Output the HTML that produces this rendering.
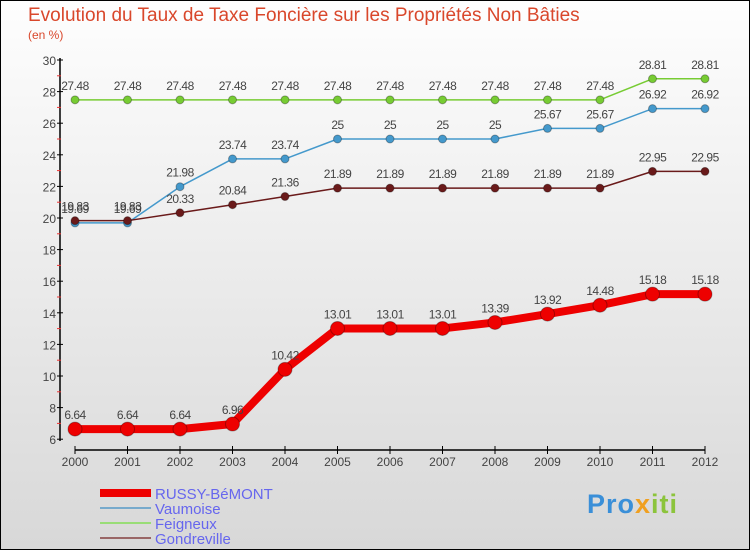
<!DOCTYPE html>
<html><head><meta charset="utf-8"><style>
body{margin:0;width:750px;height:550px;overflow:hidden;font-family:"Liberation Sans",sans-serif}
#wrap{position:relative;width:748px;height:548px;border:1px solid #000;background:linear-gradient(#fefefe,#d8d8d8)}
.t{position:absolute;color:#d9472b}
</style></head><body>
<div id="wrap">
<div class="t" style="left:27px;top:4px;font-size:19px">Evolution du Taux de Taxe Foncière sur les Propriétés Non Bâties</div>
<div class="t" style="left:27px;top:27px;font-size:12px">(en %)</div>
<svg id="c" width="750" height="550" style="position:absolute;left:-1px;top:-1px"></svg>
<div style="position:absolute;left:586px;top:488px;font-size:27px;font-weight:bold;letter-spacing:1px"><span style="color:#3a8fd8">Pro</span><span style="color:#f0a020">x</span><span style="color:#8cc43c">iti</span></div>
</div>
<script>
const years=[2000,2001,2002,2003,2004,2005,2006,2007,2008,2009,2010,2011,2012];
const russy=[6.64,6.64,6.64,6.96,10.42,13.01,13.01,13.01,13.39,13.92,14.48,15.18,15.18];
const vaumoise=[19.69,19.69,21.98,23.74,23.74,25,25,25,25,25.67,25.67,26.92,26.92];
const feigneux=[27.48,27.48,27.48,27.48,27.48,27.48,27.48,27.48,27.48,27.48,27.48,28.81,28.81];
const gondreville=[19.83,19.83,20.33,20.84,21.36,21.89,21.89,21.89,21.89,21.89,21.89,22.95,22.95];
const yTicks=[6,8,10,12,14,16,18,20,22,24,26,28,30];
const NS='http://www.w3.org/2000/svg';
const svg=document.getElementById('c');
const X=i=>75+i*52.5;
const Y=v=>60+(30-v)*15.8;
function el(t,a,p){const e=document.createElementNS(NS,t);for(const k in a)e.setAttribute(k,a[k]);(p||svg).appendChild(e);return e;}
let ax=el('line',{x1:60,y1:58,x2:60,y2:441,stroke:'#000','stroke-width':1.5});


yTicks.forEach(v=>{
  el('line',{x1:57,x2:63,y1:Y(v),y2:Y(v),stroke:'#000'});
  el('line',{x1:57,x2:61,y1:Y(v+1),y2:Y(v+1),stroke:'#e33'}).style.display=v<30?'':'none';
  let t=el('text',{x:56,y:Y(v)+5,'text-anchor':'end','font-size':12,fill:'#444'});t.textContent=v;
  
  
});
let xa=el('line',{x1:75,y1:450,x2:705,y2:450,stroke:'#000','stroke-width':1.5});


years.forEach((y,i)=>{
  el('line',{x1:X(i),x2:X(i),y1:446,y2:454,stroke:'#000'});
  let t=el('text',{x:X(i),y:466,'text-anchor':'middle','font-size':12,fill:'#444'});t.textContent=y;
  
  
});
function series(d,col,w,r,name,labelCol){
  const g=el('g',{});
  
  
  el('polyline',{points:d.map((v,i)=>X(i)+','+Y(v)).join(' '),fill:'none',stroke:col,'stroke-width':w,'stroke-linejoin':'round'},g);
  d.forEach((v,i)=>{
    const c=el('circle',{cx:X(i),cy:Y(v),r:r,fill:col,stroke:'rgba(0,0,0,0.3)'},g);
    
    
    const t=el('text',{x:X(i),y:Y(v)-10,'text-anchor':'middle','font-size':12,fill:'#444','letter-spacing':'-0.5'},g);t.textContent=v;
    
    
  });
}
series(feigneux,'#77cc33',1.5,4,'feigneux-series');
series(vaumoise,'#4499cc',1.5,4,'vaumoise-series');
series(gondreville,'#6a1a1a',1.5,4,'gondreville-series');
series(russy,'#ee0000',8,7,'russy-series');
const leg=[['RUSSY-BéMONT','#ee0000',8],['Vaumoise','#77aacc',2],['Feigneux','#99dd77',2],['Gondreville','#996666',2]];
leg.forEach((l,i)=>{
  const y=493+i*15;
  const g=el('g',{});
  
  
  el('line',{x1:100,x2:151,y1:y,y2:y,stroke:l[1],'stroke-width':l[2]},g);
  const t=el('text',{x:155,y:y+6,'font-size':15,fill:'#6666ee'},g);t.textContent=l[0];
});
</script>
</body></html>
